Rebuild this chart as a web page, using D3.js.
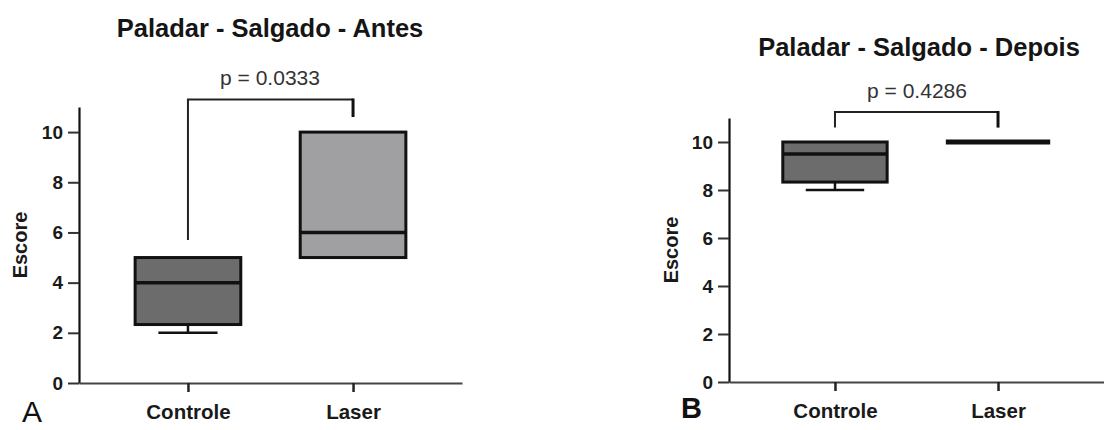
<!DOCTYPE html>
<html>
<head>
<meta charset="utf-8">
<script src="https://cdn.jsdelivr.net/npm/d3@7"></script>
<style>
  html, body { margin: 0; padding: 0; background: #fff; }
  svg { display: block; font-family: "Liberation Sans", Arial, sans-serif; }
</style>
</head>
<body>
<svg id="chart" width="1104" height="430"></svg>
<script>
// Group names shared by both panels
const categories = ["Controle", "Laser"];

// Five-number summaries per group: [min, Q1, median, Q3, max]
const antesControle = [2, 2.33, 4, 5, 5];
const antesLaser    = [5, 5, 6, 10, 10];
const depoisControle = [8, 8.33, 9.5, 10, 10];
const depoisLaser    = [10, 10, 10, 10, 10];

// Y axis ticks and domain
const yTicks = [0, 2, 4, 6, 8, 10];
const yMax = 11;

// Panel titles and test results
const titles = ["Paladar - Salgado - Antes", "Paladar - Salgado - Depois"];
const pLabels = ["p = 0.0333", "p = 0.4286"];
const panelLetters = ["A", "B"];

// Significance brackets in score units: [left leg end, bar level, right leg end]
const bracketAntes  = [5.7, 11.3, 10.6];
const bracketDepois = [10.6, 11.25, 10.6];

const svg = d3.select("#chart");

function drawPanel(cfg) {
  const g = svg.append("g");

  const y = d3.scaleLinear().domain([0, yMax]).range([cfg.bottom, cfg.top]);
  const x = d3.scalePoint().domain(categories).range([cfg.left, cfg.right]).padding(cfg.pad);
  const boxW = x.step() * 0.64;

  // Title
  g.append("text")
    .attr("x", cfg.titleX).attr("y", cfg.titleY)
    .attr("text-anchor", "middle")
    .attr("font-size", 25.5).attr("font-weight", "bold").attr("fill", "#151515")
    .text(cfg.title);

  // Boxes
  cfg.series.forEach((s, i) => {
    const cx = x(categories[i]);
    const [mn, q1, med, q3, mx] = s.values;
    const bg = g.append("g");
    // lower whisker
    if (mn < q1) {
      bg.append("line").attr("x1", cx).attr("x2", cx).attr("y1", y(q1)).attr("y2", y(mn))
        .attr("stroke", "#111").attr("stroke-width", 2.5);
      bg.append("line").attr("x1", cx - boxW * 0.28).attr("x2", cx + boxW * 0.28)
        .attr("y1", y(mn)).attr("y2", y(mn))
        .attr("stroke", "#111").attr("stroke-width", 2.5);
    }
    // upper whisker
    if (mx > q3) {
      bg.append("line").attr("x1", cx).attr("x2", cx).attr("y1", y(q3)).attr("y2", y(mx))
        .attr("stroke", "#111").attr("stroke-width", 2.5);
      bg.append("line").attr("x1", cx - boxW * 0.28).attr("x2", cx + boxW * 0.28)
        .attr("y1", y(mx)).attr("y2", y(mx))
        .attr("stroke", "#111").attr("stroke-width", 2.5);
    }
    const flat = q3 === q1;
    bg.append("rect")
      .attr("x", cx - boxW / 2).attr("width", boxW)
      .attr("y", y(q3)).attr("height", Math.max(0, y(q1) - y(q3)))
      .attr("fill", s.fill).attr("stroke", "#111").attr("stroke-width", flat ? 5 : 3);
    bg.append("line")
      .attr("x1", cx - boxW / 2).attr("x2", cx + boxW / 2)
      .attr("y1", y(med)).attr("y2", y(med))
      .attr("stroke", "#111").attr("stroke-width", flat ? 5 : 3.5);
  });

  // Significance bracket
  const [bl, bt, br] = cfg.bracket;
  const x1 = x(categories[0]), x2 = x(categories[1]);
  g.append("path")
    .attr("d", `M${x1},${y(bl)}V${y(bt)}H${x2}`)
    .attr("fill", "none").attr("stroke", "#222").attr("stroke-width", 2);
  g.append("line")
    .attr("x1", x2).attr("x2", x2).attr("y1", y(bt) - 1).attr("y2", y(br))
    .attr("stroke", "#111").attr("stroke-width", 3);
  g.append("text")
    .attr("x", cfg.pX).attr("y", cfg.pY)
    .attr("text-anchor", "middle")
    .attr("font-size", 21).attr("fill", "#333")
    .text(cfg.p);

  // Y axis
  const yAxis = g.append("g")
    .attr("transform", `translate(${cfg.left},0)`)
    .call(d3.axisLeft(y).tickValues(yTicks).tickSize(11).tickSizeOuter(0).tickPadding(5));
  yAxis.select(".domain").attr("stroke", "#111").attr("stroke-width", 2.2);
  yAxis.selectAll(".tick line").attr("stroke", "#333").attr("stroke-width", 2);
  yAxis.selectAll(".tick text")
    .attr("font-size", 19).attr("font-weight", "bold").attr("fill", "#1a1a1a")
    .attr("font-family", "Liberation Sans, Arial, sans-serif");

  // X axis
  const xAxis = g.append("g")
    .attr("transform", `translate(0,${cfg.bottom})`)
    .call(d3.axisBottom(x).tickSize(9).tickSizeOuter(0).tickPadding(12));
  xAxis.select(".domain").attr("stroke", "#444").attr("stroke-width", 1.8);
  xAxis.selectAll(".tick line").attr("stroke", "#222").attr("stroke-width", 2.5);
  xAxis.selectAll(".tick text")
    .attr("font-size", 20.5).attr("font-weight", "bold").attr("fill", "#1a1a1a")
    .attr("font-family", "Liberation Sans, Arial, sans-serif");

  // Y axis title
  g.append("text")
    .attr("transform", `translate(${cfg.yTitleX},${cfg.yTitleY}) rotate(-90)`)
    .attr("text-anchor", "middle")
    .attr("font-size", 20).attr("font-weight", "bold").attr("fill", "#1a1a1a")
    .text("Escore");

  // Panel letter
  g.append("text")
    .attr("x", cfg.letterX).attr("y", cfg.letterY)
    .attr("font-size", cfg.letterSize).attr("font-weight", cfg.letterWeight).attr("fill", "#111")
    .text(cfg.letter);
}

drawPanel({
  title: titles[0], titleX: 270, titleY: 37,
  p: pLabels[0], pX: 270, pY: 85,
  left: 79, right: 462, pad: 0.66, top: 107, bottom: 383,
  series: [
    { values: antesControle, fill: "#6c6c6c" },
    { values: antesLaser, fill: "#a0a0a2" }
  ],
  bracket: bracketAntes,
  yTitleX: 27, yTitleY: 245,
  letter: panelLetters[0], letterX: 22, letterY: 422, letterSize: 30, letterWeight: "normal"
});

drawPanel({
  title: titles[1], titleX: 919, titleY: 56,
  p: pLabels[1], pX: 917, pY: 98,
  left: 729, right: 1104, pad: 0.65, top: 118, bottom: 382,
  series: [
    { values: depoisControle, fill: "#6c6c6c" },
    { values: depoisLaser, fill: "#a0a0a2" }
  ],
  bracket: bracketDepois,
  yTitleX: 678, yTitleY: 250,
  letter: panelLetters[1], letterX: 681, letterY: 418, letterSize: 29, letterWeight: "bold"
});
</script>
</body>
</html>
